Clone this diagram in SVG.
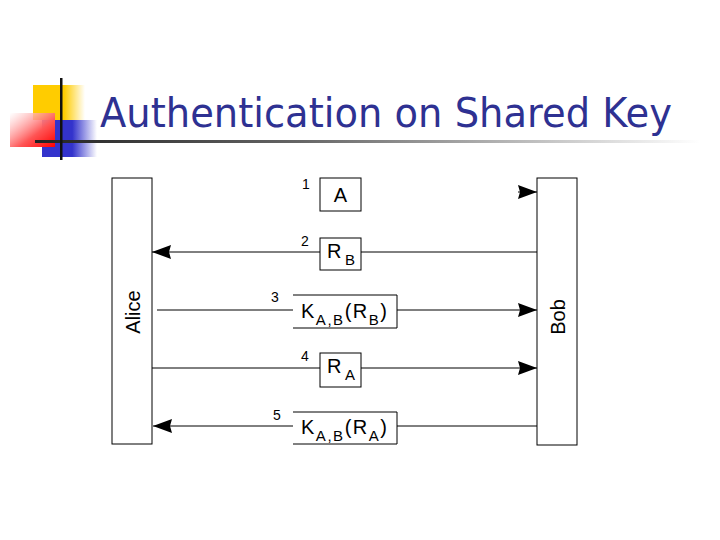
<svg xmlns="http://www.w3.org/2000/svg" width="720" height="540" viewBox="0 0 720 540">
<defs>
<linearGradient id="gY" x1="0" y1="0" x2="1" y2="0"><stop offset="0" stop-color="#FFCC00"/><stop offset="0.6" stop-color="#FFCC00"/><stop offset="1" stop-color="#FFCC00" stop-opacity="0"/></linearGradient>
<linearGradient id="gB" x1="0" y1="0" x2="1" y2="0"><stop offset="0" stop-color="#3333CC"/><stop offset="0.55" stop-color="#3333CC"/><stop offset="1" stop-color="#3333CC" stop-opacity="0"/></linearGradient>
<linearGradient id="gR" x1="0" y1="0" x2="1" y2="1"><stop offset="0" stop-color="#FFFFFF" stop-opacity="0.6"/><stop offset="0.6" stop-color="#FF5555"/><stop offset="1" stop-color="#FF0000"/></linearGradient>
<linearGradient id="gL" x1="0" y1="0" x2="1" y2="0"><stop offset="0" stop-color="#222222"/><stop offset="0.4" stop-color="#666666"/><stop offset="1" stop-color="#FFFFFF"/></linearGradient>
<marker id="ah" markerWidth="20" markerHeight="16" refX="19" refY="8" orient="auto" markerUnits="userSpaceOnUse">
<path d="M0,1 L19,8 L0,15 L2,8 Z" fill="#000"/>
</marker>
<style>
.box{fill:#fff;stroke:#000;stroke-width:1}
.ln{stroke:#000;stroke-width:1;fill:none}
.lbl{font-family:"Liberation Sans",Arial,sans-serif;font-size:20px;fill:#000}
.num{font-family:"Liberation Sans",Arial,sans-serif;font-size:14px;fill:#000}
.sub{font-size:15px}
</style>
</defs>
<g id="decor">
<rect x="33" y="85" width="52" height="35" fill="url(#gY)"/>
<rect x="42" y="120" width="55" height="37" fill="url(#gB)"/>
<rect x="10" y="113" width="45" height="34" fill="url(#gR)"/>
<rect x="35" y="140" width="665" height="3" fill="url(#gL)"/>
<rect x="60" y="78" width="2.5" height="82" fill="#111"/>
</g>
<text id="title" x="100" y="127" font-family="Tahoma,'DejaVu Sans',sans-serif" font-size="40" fill="#2E3192" textLength="572" lengthAdjust="spacingAndGlyphs">Authentication on Shared Key</text>
<g id="alice">
<rect class="box" x="112" y="178" width="40" height="266"/>
<text class="lbl" transform="translate(140,312) rotate(-90)" text-anchor="middle" font-size="21">Alice</text>
</g>
<g id="bob">
<rect class="box" x="537" y="178" width="40" height="267"/>
<text class="lbl" transform="translate(565,317) rotate(-90)" text-anchor="middle" font-size="21">Bob</text>
</g>
<g id="connectors">
<line class="ln" x1="518" y1="192" x2="537" y2="192" marker-end="url(#ah)"/>
<line class="ln" x1="537" y1="252" x2="361" y2="252"/>
<line class="ln" x1="320" y1="252" x2="152" y2="252" marker-end="url(#ah)"/>
<line class="ln" x1="157" y1="310" x2="293" y2="310"/>
<line class="ln" x1="397" y1="310" x2="537" y2="310" marker-end="url(#ah)"/>
<line class="ln" x1="152" y1="368" x2="320" y2="368"/>
<line class="ln" x1="361" y1="368" x2="537" y2="368" marker-end="url(#ah)"/>
<line class="ln" x1="537" y1="426" x2="397" y2="426"/>
<line class="ln" x1="293" y1="426" x2="153" y2="426" marker-end="url(#ah)"/>
</g>
<g id="msg1">
<rect class="box" x="320" y="178" width="41" height="33"/>
<text class="lbl" x="340.5" y="202" text-anchor="middle">A</text>
<text class="num" x="302" y="189">1</text>
</g>
<g id="msg2">
<rect class="box" x="320" y="238" width="41" height="32"/>
<text class="lbl" x="327" y="258" textLength="28" lengthAdjust="spacing">R<tspan class="sub" dy="7">B</tspan></text>
<text class="num" x="301" y="246">2</text>
</g>
<g id="msg3">
<path class="ln" d="M293,295 H397 V328 H293"/>
<text class="lbl" x="301" y="318" textLength="86" lengthAdjust="spacing">K<tspan class="sub" dy="7">A,B</tspan><tspan dy="-7">(R</tspan><tspan class="sub" dy="7">B</tspan><tspan dy="-7">)</tspan></text>
<text class="num" x="271" y="302">3</text>
</g>
<g id="msg4">
<rect class="box" x="320" y="353" width="41" height="34"/>
<text class="lbl" x="327" y="373" textLength="28" lengthAdjust="spacing">R<tspan class="sub" dy="7">A</tspan></text>
<text class="num" x="301" y="361">4</text>
</g>
<g id="msg5">
<path class="ln" d="M293,412 H397 V444 H293"/>
<text class="lbl" x="301" y="434" textLength="86" lengthAdjust="spacing">K<tspan class="sub" dy="7">A,B</tspan><tspan dy="-7">(R</tspan><tspan class="sub" dy="7">A</tspan><tspan dy="-7">)</tspan></text>
<text class="num" x="273" y="420">5</text>
</g>
</svg>
